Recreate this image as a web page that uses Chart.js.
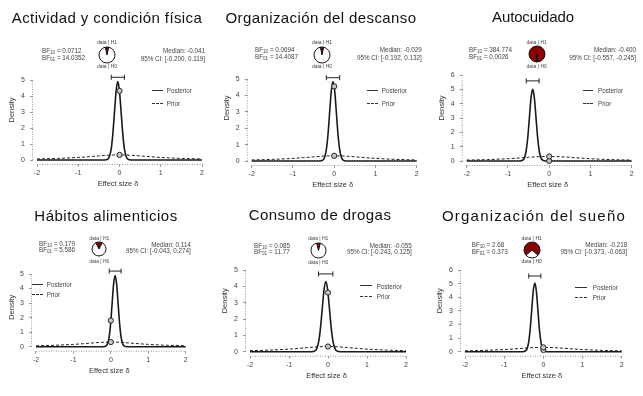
<!DOCTYPE html>
<html><head><meta charset="utf-8">
<script src="https://cdn.jsdelivr.net/npm/chart.js@4.4.0/dist/chart.umd.min.js"></script>
<style>
body{margin:0;background:#fff;width:643px;height:396px;overflow:hidden;position:relative;font-family:"Liberation Sans",Arial,sans-serif;}
.abs{position:absolute;white-space:nowrap;}
.title{font-size:15px;line-height:15px;color:#111;text-align:center;width:300px;}
.sm{font-size:6.3px;line-height:7px;color:#444;}
.sm sub{font-size:4.6px;vertical-align:-1.2px;line-height:0;}
.tiny{font-size:5px;line-height:5px;color:#444;text-align:center;width:40px;}
.right{text-align:right;width:120px;}
canvas{position:absolute;}
</style></head><body>
<script>
// ---------- data ----------
const titles = ["Actividad y condición física","Organización del descanso","Autocuidado","Hábitos alimenticios","Consumo de drogas","Organización del sueño"];
const bf10 = ["0.0712","0.0694","384.774","0.179","0.085","2.68"];
const bf01 = ["14.0352","14.4087","0.0026","5.586","11.77","0.373"];
const bf10Value = [0.0712,0.0694,384.774,0.179,0.085,2.68];
const medians = [-0.041,-0.029,-0.400,0.114,-0.055,-0.218];
const ciLow = [-0.200,-0.192,-0.557,-0.043,-0.243,-0.373];
const ciHigh = [0.119,0.132,-0.245,0.274,0.125,-0.063];
const ciHeight = [5.17,5.08,5.59,5.2,4.76,5.56];
const yTickMax = [5,5,6,5,5,6];
const xTicks = [-2,-1,0,1,2];
const priorX = [-2,-1.5,-1,-0.75,-0.5,-0.25,0,0.25,0.5,0.75,1,1.5,2];
const priorY = [0.064,0.098,0.159,0.204,0.255,0.300,0.318,0.300,0.255,0.204,0.159,0.098,0.064];
const postX1 = [-2,-0.365,-0.284,-0.244,-0.203,-0.163,-0.122,-0.082,-0.041,-0.001,0.040,0.081,0.121,0.162,0.202,0.283,2];
const postY1 = [0,0,0.05,0.22,0.66,1.59,2.97,4.32,4.90,4.32,2.97,1.59,0.66,0.22,0.05,0,0];
const postX2 = [-2,-0.357,-0.275,-0.234,-0.193,-0.152,-0.111,-0.070,-0.029,0.012,0.053,0.094,0.135,0.176,0.217,0.299,2];
const postY2 = [0,0,0.05,0.21,0.66,1.57,2.94,4.28,4.85,4.28,2.94,1.57,0.66,0.21,0.05,0,0];
const postX3 = [-2,-0.72,-0.64,-0.60,-0.56,-0.52,-0.48,-0.44,-0.40,-0.36,-0.32,-0.28,-0.24,-0.20,-0.16,-0.08,2];
const postY3 = [0,0,0.06,0.22,0.68,1.62,3.03,4.41,5.00,4.41,3.03,1.62,0.68,0.22,0.06,0,0];
const postX4 = [-2,-0.206,-0.126,-0.086,-0.046,-0.006,0.034,0.074,0.114,0.154,0.194,0.234,0.274,0.314,0.354,0.434,2];
const postY4 = [0,0,0.05,0.22,0.66,1.59,2.97,4.32,4.90,4.32,2.97,1.59,0.66,0.22,0.05,0,0];
const postX5 = [-2,-0.427,-0.334,-0.288,-0.241,-0.195,-0.148,-0.102,-0.055,-0.009,0.038,0.085,0.131,0.178,0.224,0.317,2];
const postY5 = [0,0,0.05,0.19,0.58,1.40,2.61,3.79,4.30,3.79,2.61,1.40,0.58,0.19,0.05,0,0];
const postX6 = [-2,-0.534,-0.455,-0.416,-0.376,-0.337,-0.297,-0.258,-0.218,-0.179,-0.139,-0.100,-0.060,-0.021,0.019,0.098,2];
const postY6 = [0,0,0.06,0.22,0.68,1.64,3.06,4.46,5.05,4.46,3.06,1.64,0.68,0.22,0.06,0,0];
const postXs = [postX1,postX2,postX3,postX4,postX5,postX6];
const postYs = [postY1,postY2,postY3,postY4,postY5,postY6];
const postAtZero = [4.32,4.55,0.01,1.80,3.62,0.13];
const priorAtZero = 0.318;

// ---------- layout (page pixels) ----------
const layout = [
 {x1:37,x2:202,y0:160,yT:80,top:56,densX:11.7,tc:107,tt:10,ls:0.4,bfL:42,bfY:[50,57.3],mR:205,mY:[50,58.3],pie:[107,54.7,7.3],h1:42.7,h0:66.7,lg:[151.7,163.3,166.7,90.7,103.3]},
 {x1:251.7,x2:416.7,y0:161,yT:79,top:51,densX:226.7,tc:321,tt:10,ls:0.4,bfL:255,bfY:[49.3,56.7],mR:421.7,mY:[49.3,57.3],pie:[322,55,7.3],h1:42.7,h0:66.7,lg:[366.7,378.3,381.7,90.7,103.3]},
 {x1:466.7,x2:631.7,y0:161,yT:75,top:51,densX:441.7,tc:533,tt:9,ls:-0.15,bfL:469,bfY:[49.3,56.7],mR:636,mY:[49.3,57.3],pie:[536.7,54.3,7.3],h1:42.7,h0:66.7,lg:[582.7,593.3,598,90.7,103.3]},
 {x1:36,x2:185.7,y0:346.7,yT:274,top:264,densX:11.7,tc:106,tt:208,ls:0.5,bfL:39,bfY:[243.3,249.3],mR:190.7,mY:[244,250],pie:[99.3,249.3,6.7],h1:238.3,h0:261,lg:[32.3,43.3,46.7,284.3,294.3]},
 {x1:250,x2:406,y0:351.7,yT:270,top:246,densX:225,tc:320,tt:207,ls:0.45,bfL:254,bfY:[245,251.7],mR:411.7,mY:[245,251.7],pie:[318.3,250,7],h1:238.3,h0:262,lg:[360,371.7,376.7,286,296.7]},
 {x1:465,x2:621.7,y0:351.7,yT:270,top:246,densX:440,tc:534,tt:208,ls:1.2,bfL:471.7,bfY:[244,251.7],mR:627.3,mY:[244,251.7],pie:[531.7,250,7.7],h1:238.7,h0:261.7,lg:[575,586.7,592.7,287.3,297.3]}
];

Chart.defaults.font.family = '"Liberation Sans", Arial, sans-serif';

function addDiv(cls, html, left, top, extra){
  const d = document.createElement('div');
  d.className = 'abs ' + cls;
  d.innerHTML = html;
  d.style.left = left + 'px';
  d.style.top = top + 'px';
  if (extra) Object.assign(d.style, extra);
  document.body.appendChild(d);
  return d;
}

const axisLines = {
  id:'axisLines',
  afterDraw(chart){
    const {ctx, chartArea:a, scales:{x, y}} = chart;
    const topVal = chart.options.plugins.axisLines.top;
    ctx.save();
    ctx.strokeStyle = '#9a9a9a';
    ctx.lineWidth = 1;
    ctx.setLineDash([1,1.5]);
    ctx.beginPath();
    ctx.moveTo(x.getPixelForValue(-2), a.bottom + 0.5);
    ctx.lineTo(x.getPixelForValue(2), a.bottom + 0.5);
    ctx.moveTo(a.left - 0.5, y.getPixelForValue(0));
    ctx.lineTo(a.left - 0.5, y.getPixelForValue(topVal));
    ctx.stroke();
    ctx.restore();
  }
};

function makePanel(i){
  const L = layout[i];
  const ppuX = (L.x2 - L.x1) / 4;
  const ppuY = (L.y0 - L.yT) / yTickMax[i];
  const chartLeft = L.x1 - 4, chartRight = L.x2 + 1, chartBottom = L.y0 + 4, chartTop = L.top;
  const xmin = -2 - 4 / ppuX, xmax = 2 + 1 / ppuX;
  const ymin = -4 / ppuY, ymax = (L.y0 - chartTop) / ppuY;
  const cl = Math.floor(chartLeft - 30);
  const YW = chartLeft - cl;
  const ct = Math.floor(chartTop - 12);
  const padTop = chartTop - ct;
  const W = Math.ceil(chartRight + 6) - cl;
  const PR = W - (chartRight - cl);
  const H = Math.ceil(chartBottom + 24) - ct;
  const XH = H - (chartBottom - ct);
  const cv = document.createElement('canvas');
  cv.width = W; cv.height = H;
  cv.style.left = cl + 'px'; cv.style.top = ct + 'px';
  cv.style.width = W + 'px'; cv.style.height = H + 'px';
  document.body.appendChild(cv);
  const yTicks = [];
  for (let t = 0; t <= yTickMax[i]; t++) yTicks.push(t);
  const densPad = L.densX - cl - 4.5;

  new Chart(cv, {
    type:'line',
    data:{datasets:[
      {label:'markers', data:[{x:0,y:postAtZero[i]},{x:0,y:priorAtZero}], showLine:false, pointRadius:2.6,
       pointBackgroundColor:'#c8c8c8', pointBorderColor:'#222', pointBorderWidth:1, order:0},
      {label:'CI', data:[{x:ciLow[i],y:ciHeight[i]},{x:ciHigh[i],y:ciHeight[i]}], borderColor:'#222', borderWidth:1,
       pointStyle:'line', rotation:90, pointRadius:2.5, pointBorderWidth:1, pointBorderColor:'#222', order:1},
      {label:'Posterior', data:postXs[i].map((x,k)=>({x, y:postYs[i][k]})), borderColor:'#1a1a1a', borderWidth:1.6,
       pointRadius:0, cubicInterpolationMode:'monotone', order:2},
      {label:'Prior', data:priorX.map((x,k)=>({x, y:priorY[k]})), borderColor:'#222', borderWidth:1, borderDash:[3,2],
       pointRadius:0, cubicInterpolationMode:'monotone', order:3}
    ]},
    options:{
      responsive:false, animation:false, events:[],
      layout:{padding:{left:0, top:padTop, right:PR, bottom:0}},
      plugins:{legend:{display:false}, tooltip:{enabled:false}, axisLines:{top:yTickMax[i]}},
      scales:{
        x:{type:'linear', min:xmin, max:xmax,
           afterBuildTicks:s=>{ s.ticks = xTicks.map(v=>({value:v})); },
           afterFit:s=>{ s.height = XH; },
           grid:{drawOnChartArea:false, drawTicks:true, tickLength:3, color:'#9a9a9a'},
           border:{display:false},
           ticks:{font:{size:7}, color:'#444', padding:2, maxRotation:0, autoSkip:false, callback:v=>String(v)},
           title:{display:true, text:'Effect size δ', font:{size:7.5}, color:'#333', padding:{top:0,bottom:0}}},
        y:{type:'linear', min:ymin, max:ymax,
           afterBuildTicks:s=>{ s.ticks = yTicks.map(v=>({value:v})); },
           afterFit:s=>{ s.width = YW; },
           grid:{drawOnChartArea:false, drawTicks:true, tickLength:3, color:'#9a9a9a'},
           border:{display:false},
           ticks:{font:{size:7}, color:'#444', padding:5, autoSkip:false, callback:v=>String(v)},
           title:{display:true, text:'Density', font:{size:7.5}, color:'#333', padding:{top:densPad,bottom:0}}}
      }
    },
    plugins:[axisLines]
  });
}

function makePie(i){
  const L = layout[i];
  const [px, py, r] = L.pie;
  const s = Math.round(2 * r + 3);
  const cv = document.createElement('canvas');
  cv.width = s; cv.height = s;
  cv.style.left = (px - s/2) + 'px'; cv.style.top = (py - s/2) + 'px';
  cv.style.width = s + 'px'; cv.style.height = s + 'px';
  document.body.appendChild(cv);
  const red = bf10Value[i] / (1 + bf10Value[i]);
  new Chart(cv, {
    type:'pie',
    data:{labels:['data | H1','data | H0'], datasets:[{data:[red, 1 - red], backgroundColor:['#8b0000','#ffffff'], borderColor:'#111', borderWidth:1}]},
    options:{responsive:false, animation:false, events:[], rotation:-red*180,
      layout:{padding:0.5}, plugins:{legend:{display:false}, tooltip:{enabled:false}}}
  });
}

for (let i = 0; i < 6; i++){
  makePanel(i);
  makePie(i);
}
for (let i = 0; i < 6; i++){
  const L = layout[i];
  addDiv('title', titles[i], L.tc - 150, L.tt, {letterSpacing: L.ls + 'px'});
  addDiv('sm', 'BF<sub>10</sub> = ' + bf10[i], L.bfL, L.bfY[0] - 3.5);
  addDiv('sm', 'BF<sub>01</sub> = ' + bf01[i], L.bfL, L.bfY[1] - 3.5);
  addDiv('sm right', 'Median: ' + medians[i].toFixed(3), L.mR - 120, L.mY[0] - 3.5);
  addDiv('sm right', '95% CI: [' + ciLow[i].toFixed(3) + ', ' + ciHigh[i].toFixed(3) + ']', L.mR - 120, L.mY[1] - 3.5);
  addDiv('tiny', 'data | H1', L.pie[0] - 20, L.h1 - 2.5);
  addDiv('tiny', 'data | H0', L.pie[0] - 20, L.h0 - 2.5);
  const [lx1, lx2, tx, ly1, ly2] = L.lg;
  addDiv('', '', lx1, ly1 - 0.75, {width:(lx2-lx1)+'px', height:'0', borderTop:'1.5px solid #333'});
  addDiv('', '', lx1, ly2 - 0.5, {width:(lx2-lx1)+'px', height:'0', borderTop:'1px dashed #333'});
  addDiv('sm', 'Posterior', tx, ly1 - 3.5);
  addDiv('sm', 'Prior', tx, ly2 - 3.5);
}
</script>
</body></html>
